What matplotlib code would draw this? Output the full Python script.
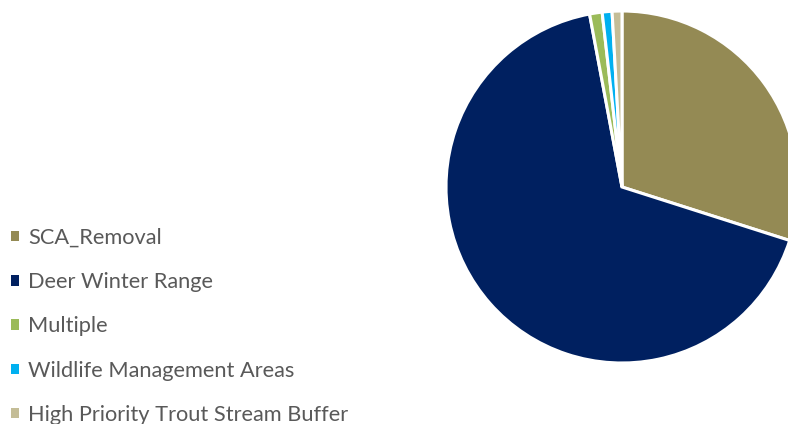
import matplotlib
matplotlib.use("Agg")
import matplotlib.pyplot as plt

categories = ["SCA_Removal", "Deer Winter Range", "Multiple",
              "Wildlife Management Areas", "High Priority Trout Stream Buffer"]
values = [29.9, 67.1, 1.15, 0.9, 0.9]
colors = ["#948A54", "#002060", "#9BBB59", "#00B0F0", "#C4BD97"]

W, H = 788, 424
fig = plt.figure(figsize=(W / 100, H / 100), dpi=100)
ax = fig.add_axes([0, 0, 1, 1])

wedges, _ = ax.pie(values, colors=colors, startangle=90, counterclock=False,
                   center=(622, H - 187), radius=176,
                   wedgeprops=dict(edgecolor="white", linewidth=2.2))
ax.set_aspect("auto")
ax.set_xlim(0, W)
ax.set_ylim(0, H)
ax.axis("off")

fs = 15.7
leg = ax.legend(wedges, categories, loc="upper left",
                bbox_to_anchor=(11 / W, 1 - 228 / H), bbox_transform=fig.transFigure,
                frameon=False, borderaxespad=0, borderpad=0,
                handlelength=0.37, handleheight=0.37, handletextpad=0.42,
                labelspacing=1.11, labelcolor="#595959",
                prop=dict(family="Lato", size=fs))
for h in leg.legend_handles:
    h.set_edgecolor("none")

fig.savefig("out.png", dpi=100)
